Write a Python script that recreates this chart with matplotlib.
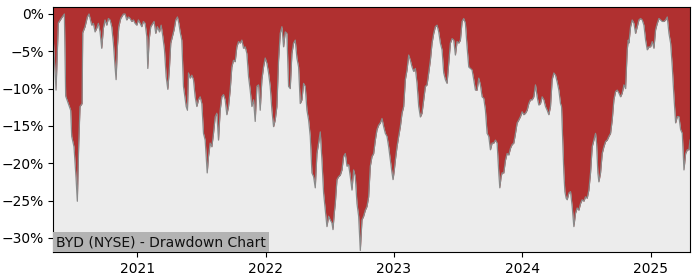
import matplotlib
matplotlib.use("Agg")
import matplotlib.pyplot as plt
import matplotlib.dates as mdates
from matplotlib.ticker import PercentFormatter, MultipleLocator
import numpy as np
import pandas as pd

title = "BYD (NYSE) - Drawdown Chart"

# decimal-year time stamps
years = [
    2020.345, 2020.366, 2020.384, 2020.410, 2020.431, 2020.441, 2020.462, 2020.480, 2020.488, 2020.506,
    2020.522, 2020.532, 2020.543, 2020.553, 2020.569, 2020.574, 2020.592, 2020.610, 2020.623, 2020.644,
    2020.657, 2020.670, 2020.683, 2020.696, 2020.709, 2020.722, 2020.735, 2020.748, 2020.761, 2020.774,
    2020.787, 2020.800, 2020.813, 2020.826, 2020.834, 2020.844, 2020.855, 2020.870, 2020.891, 2020.904,
    2020.917, 2020.930, 2020.943, 2020.956, 2020.969, 2020.982, 2020.995, 2021.008, 2021.021, 2021.034,
    2021.047, 2021.060, 2021.073, 2021.081, 2021.091, 2021.104, 2021.120, 2021.130, 2021.143, 2021.156,
    2021.172, 2021.185, 2021.198, 2021.211, 2021.224, 2021.237, 2021.250, 2021.260, 2021.273, 2021.286,
    2021.299, 2021.312, 2021.323, 2021.333, 2021.346, 2021.359, 2021.380, 2021.390, 2021.398, 2021.411,
    2021.424, 2021.437, 2021.450, 2021.463, 2021.476, 2021.489, 2021.502, 2021.515, 2021.528, 2021.544,
    2021.554, 2021.567, 2021.580, 2021.593, 2021.606, 2021.619, 2021.632, 2021.645, 2021.658, 2021.671,
    2021.684, 2021.697, 2021.710, 2021.723, 2021.736, 2021.749, 2021.762, 2021.775, 2021.788, 2021.801,
    2021.814, 2021.827, 2021.840, 2021.853, 2021.866, 2021.879, 2021.892, 2021.905, 2021.918, 2021.931,
    2021.944, 2021.957, 2021.970, 2021.983, 2021.996, 2022.009, 2022.022, 2022.035, 2022.048, 2022.061,
    2022.074, 2022.087, 2022.100, 2022.113, 2022.126, 2022.139, 2022.152, 2022.165, 2022.178, 2022.191,
    2022.204, 2022.217, 2022.230, 2022.243, 2022.256, 2022.269, 2022.282, 2022.295, 2022.308, 2022.321,
    2022.334, 2022.347, 2022.360, 2022.373, 2022.386, 2022.399, 2022.412, 2022.425, 2022.438, 2022.451,
    2022.464, 2022.477, 2022.490, 2022.503, 2022.516, 2022.524, 2022.534, 2022.542, 2022.555, 2022.568,
    2022.581, 2022.594, 2022.607, 2022.620, 2022.633, 2022.646, 2022.659, 2022.672, 2022.685, 2022.698,
    2022.711, 2022.724, 2022.737, 2022.750, 2022.763, 2022.776, 2022.789, 2022.802, 2022.815, 2022.828,
    2022.841, 2022.854, 2022.867, 2022.880, 2022.893, 2022.906, 2022.919, 2022.932, 2022.945, 2022.958,
    2022.971, 2022.984, 2022.992, 2023.002, 2023.010, 2023.023, 2023.036, 2023.049, 2023.062, 2023.075,
    2023.088, 2023.101, 2023.114, 2023.127, 2023.140, 2023.153, 2023.166, 2023.179, 2023.192, 2023.205,
    2023.218, 2023.231, 2023.244, 2023.257, 2023.270, 2023.283, 2023.296, 2023.309, 2023.322, 2023.335,
    2023.348, 2023.361, 2023.374, 2023.387, 2023.400, 2023.413, 2023.426, 2023.439, 2023.452, 2023.465,
    2023.478, 2023.491, 2023.504, 2023.517, 2023.530, 2023.543, 2023.556, 2023.569, 2023.582, 2023.595,
    2023.608, 2023.621, 2023.634, 2023.647, 2023.660, 2023.673, 2023.686, 2023.699, 2023.712, 2023.725,
    2023.738, 2023.751, 2023.764, 2023.777, 2023.790, 2023.803, 2023.816, 2023.824, 2023.834, 2023.842,
    2023.855, 2023.868, 2023.881, 2023.894, 2023.907, 2023.920, 2023.933, 2023.946, 2023.959, 2023.972,
    2023.985, 2023.998, 2024.011, 2024.024, 2024.037, 2024.050, 2024.063, 2024.076, 2024.089, 2024.102,
    2024.115, 2024.128, 2024.141, 2024.154, 2024.167, 2024.180, 2024.193, 2024.206, 2024.219, 2024.232,
    2024.245, 2024.258, 2024.271, 2024.284, 2024.297, 2024.305, 2024.315, 2024.323, 2024.331, 2024.341,
    2024.349, 2024.362, 2024.375, 2024.388, 2024.401, 2024.414, 2024.427, 2024.440, 2024.453, 2024.466,
    2024.479, 2024.492, 2024.505, 2024.518, 2024.531, 2024.544, 2024.557, 2024.570, 2024.578, 2024.588,
    2024.596, 2024.609, 2024.622, 2024.635, 2024.648, 2024.661, 2024.674, 2024.687, 2024.700, 2024.713,
    2024.726, 2024.739, 2024.752, 2024.765, 2024.778, 2024.791, 2024.804, 2024.817, 2024.825, 2024.830,
    2024.843, 2024.856, 2024.869, 2024.882, 2024.895, 2024.908, 2024.921, 2024.934, 2024.947, 2024.960,
    2024.973, 2024.986, 2024.999, 2025.012, 2025.025, 2025.038, 2025.051, 2025.064, 2025.077, 2025.090,
    2025.103, 2025.116, 2025.129, 2025.142, 2025.155, 2025.168, 2025.181, 2025.194, 2025.207, 2025.220,
    2025.233, 2025.246, 2025.259, 2025.272, 2025.285, 2025.298, 2025.306,
]

# drawdown in percent
drawdown = [
    -3.5, -10.2, -1.2, -0.5, 0.0, -11.0, -12.0, -12.9, -16.4, -17.8,
    -22.0, -25.1, -17.3, -12.4, -12.0, -2.5, -1.7, -0.4, 0.0, -1.5,
    -1.25, -2.4, -1.9, -1.25, -2.4, -4.6, -1.9, -0.8, -1.5, -0.6,
    -0.8, -1.7, -3.9, -7.1, -8.8, -4.4, -1.7, -0.6, 0.0, 0.0,
    -0.8, -0.4, -0.6, -1.0, -0.8, -1.25, -1.5, -0.8, -1.25, -1.7,
    -1.0, -1.25, -3.0, -7.3, -3.5, -1.7, -1.25, -1.0, -2.6, -1.7,
    -2.4, -1.5, -3.0, -4.8, -8.4, -10.1, -7.1, -3.9, -3.0, -2.1,
    -0.8, -0.4, -1.25, -2.4, -3.5, -9.7, -12.4, -12.9, -7.9, -8.6,
    -8.2, -8.8, -11.1, -12.4, -11.5, -11.1, -12.0, -16.0, -16.9, -21.3,
    -19.1, -17.3, -17.8, -16.0, -13.8, -13.3, -16.9, -12.9, -11.1, -10.8,
    -11.5, -13.5, -12.4, -10.2, -7.1, -6.2, -6.4, -4.4, -3.7, -3.9,
    -3.5, -4.6, -4.4, -5.3, -8.4, -10.2, -12.4, -11.5, -14.4, -9.7,
    -9.5, -12.9, -8.8, -7.1, -5.9, -6.6, -7.9, -9.7, -12.9, -15.1,
    -14.2, -12.4, -6.2, -2.6, -1.7, -4.4, -2.4, -2.6, -9.7, -10.0,
    -5.3, -3.9, -3.5, -5.9, -7.1, -12.0, -11.5, -9.3, -9.7, -12.9,
    -14.2, -16.4, -21.3, -21.8, -23.3, -18.7, -17.3, -15.8, -19.6, -24.0,
    -26.3, -28.5, -27.1, -27.6, -28.0, -28.9, -26.7, -25.4, -22.2, -21.8,
    -21.6, -20.9, -19.1, -18.7, -20.4, -20.2, -21.8, -23.6, -20.9, -21.8,
    -25.4, -27.1, -31.7, -27.6, -27.1, -26.3, -25.8, -24.5, -20.4, -19.1,
    -18.7, -16.9, -15.5, -14.9, -14.6, -14.0, -15.1, -16.0, -16.4, -17.8,
    -19.6, -21.3, -22.2, -20.9, -19.6, -17.8, -16.4, -15.1, -13.3, -12.4,
    -8.8, -7.5, -5.5, -6.2, -7.1, -7.7, -7.3, -9.3, -12.4, -13.8,
    -13.3, -11.5, -9.7, -9.5, -7.9, -6.2, -3.9, -2.6, -1.7, -1.5,
    -2.4, -3.9, -4.8, -7.9, -8.8, -9.3, -6.6, -3.9, -3.3, -3.5,
    -5.5, -3.7, -3.9, -3.5, -1.0, -0.6, -1.25, -4.4, -7.1, -7.3,
    -7.5, -8.8, -10.2, -10.2, -8.6, -9.5, -11.1, -11.3, -12.9, -16.0,
    -16.4, -18.2, -17.3, -17.3, -16.9, -17.3, -21.3, -23.3, -21.8, -21.3,
    -21.3, -19.6, -18.7, -18.9, -18.0, -17.5, -17.3, -16.0, -14.6, -14.2,
    -13.75, -13.1, -13.5, -13.3, -12.9, -12.0, -11.5, -11.5, -11.1, -9.5,
    -11.1, -12.2, -12.0, -11.1, -11.5, -12.4, -12.9, -13.5, -12.4, -8.8,
    -7.9, -8.2, -9.1, -10.2, -12.0, -12.4, -17.3, -21.3, -23.8, -24.7,
    -24.9, -24.0, -23.8, -25.8, -28.5, -26.7, -26.0, -26.3, -25.4, -24.9,
    -25.1, -24.5, -24.7, -23.6, -21.3, -17.8, -16.9, -16.0, -17.3, -21.3,
    -22.5, -21.3, -18.7, -17.8, -17.1, -16.9, -16.4, -16.0, -14.2, -11.5,
    -10.4, -10.2, -10.6, -11.1, -10.6, -9.5, -10.0, -4.8, -3.5, -3.9,
    -1.7, -0.8, -1.25, -2.6, -1.7, -0.8, -0.6, -0.8, -1.5, -3.5,
    -4.8, -4.4, -4.4, -3.7, -4.6, -2.1, -1.25, -0.6, -0.8, -1.0,
    -1.0, -0.8, -0.4, -2.6, -3.9, -7.1, -11.1, -14.6, -13.75, -13.75,
    -15.5, -16.0, -20.9, -18.7, -18.2, -18.2, -16.9,
]

yrs = np.array(years)
dates = pd.to_datetime("2021-01-01") + pd.to_timedelta((yrs - 2021.0) * 365.25, unit="D")
dd = np.array(drawdown)

fig = plt.figure(figsize=(7, 2.8), dpi=100)
ax = fig.add_axes([0.0762, 0.1, 0.9095, 0.874])
ax.set_facecolor("#ececec")

top = 0.9
ax.fill_between(dates, dd, top, color="#b03030", linewidth=0)
ax.plot(dates, dd, color="#8a8a8a", linewidth=0.9)

ax.set_xlim(dates[0], dates[-1])
ax.set_ylim(-31.9, top)
ax.yaxis.set_major_locator(MultipleLocator(5))
ax.yaxis.set_major_formatter(PercentFormatter(xmax=100, decimals=0))
ax.xaxis.set_major_locator(mdates.YearLocator())
ax.xaxis.set_major_formatter(mdates.DateFormatter("%Y"))

ax.text(0.0045, 0.012, title, transform=ax.transAxes, fontsize=10,
        ha="left", va="bottom", color="#111111",
        bbox=dict(facecolor="#b3b3b3", edgecolor="none", pad=2.2))

fig.savefig("out.png", dpi=100)
